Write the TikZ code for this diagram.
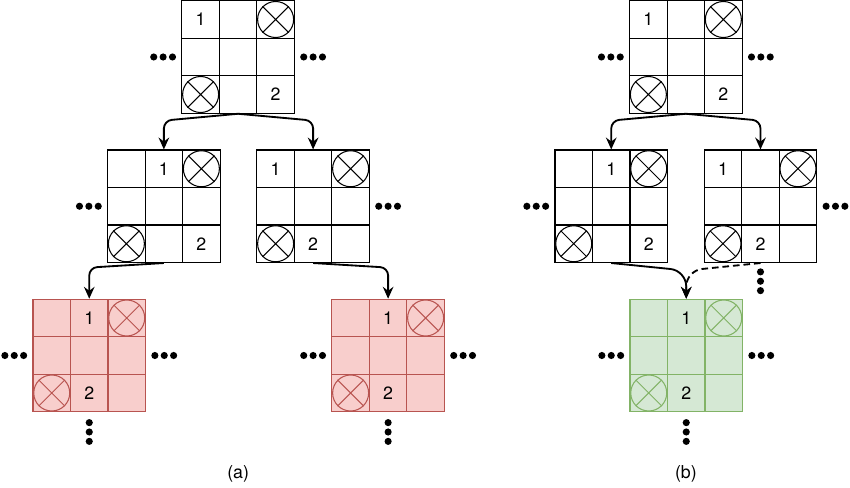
\documentclass[tikz,border=0pt]{standalone}
\usepackage{fontspec}
\setmainfont{TeX Gyre Heros}
\usepackage{tikz}
\usetikzlibrary{arrows.meta}
\usetikzlibrary{calc}
\definecolor{dupfill}{HTML}{F8CECC}
\definecolor{dupline}{HTML}{B85450}
\definecolor{mergefill}{HTML}{D5E8D4}
\definecolor{mergeline}{HTML}{82B366}
\tikzset{cell/.style={draw, shape=rectangle, minimum size=1cm, inner sep=0pt, line width=0.8pt}}
\tikzset{blocked/.style={draw, shape=circle, minimum size=0.96cm, inner sep=0pt, line width=0.8pt}}
\tikzset{num/.style={font=\fontsize{13.5}{16}\selectfont, inner sep=0pt}}
\tikzset{dot/.style={shape=circle, fill=black, minimum size=0.19cm, inner sep=0pt}}
\tikzset{link/.style={line width=1.4pt, rounded corners=6pt, -{Stealth[length=9pt,width=8pt,inset=3pt]}}}
\tikzset{other/.style={dash pattern=on 5pt off 3pt}}
\tikzset{blank/.style={fill=white, draw=black}}
\tikzset{dupl/.style={fill=dupfill, draw=dupline}}
\tikzset{merged/.style={fill=mergefill, draw=mergeline}}

% one 3x3 board: name, centre, look, cell of 1, cell of 2
\newcommand{\board}[5]{%
	\begin{scope}[shift={(#2)}]
		\node[cell,#3] (#1-11) at (-1, 1) {};	\node[cell,#3] (#1-12) at (0, 1) {};	\node[cell,#3] (#1-13) at (1, 1) {};
		\node[cell,#3] (#1-21) at (-1, 0) {};	\node[cell,#3] (#1-22) at (0, 0) {};	\node[cell,#3] (#1-23) at (1, 0) {};
		\node[cell,#3] (#1-31) at (-1,-1) {};	\node[cell,#3] (#1-32) at (0,-1) {};	\node[cell,#3] (#1-33) at (1,-1) {};
	\end{scope}
	\node[blocked,#3] (#1-xa) at (#1-13) {};
	\node[blocked,#3] (#1-xb) at (#1-31) {};
	\draw[line width=0.8pt,#3] (#1-xa.45) -- (#1-xa.225) (#1-xa.135) -- (#1-xa.315);
	\draw[line width=0.8pt,#3] (#1-xb.45) -- (#1-xb.225) (#1-xb.135) -- (#1-xb.315);
	\node[num] (#1-one) at (#1-#4) {1};
	\node[num] (#1-two) at (#1-#5) {2};
}
\newcommand{\rowdots}[2]{%
	\begin{scope}[shift={(#2)}]
		\node[dot] (#1-a) at (-0.25,0) {};	\node[dot] (#1-b) at (0,0) {};	\node[dot] (#1-c) at (0.25,0) {};
	\end{scope}}
\newcommand{\coldots}[2]{%
	\begin{scope}[shift={(#2)}]
		\node[dot] (#1-a) at (0,0.25) {};	\node[dot] (#1-b) at (0,0) {};	\node[dot] (#1-c) at (0,-0.25) {};
	\end{scope}}

\begin{document}
\begin{tikzpicture}
	\useasboundingbox (0,0) rectangle (22.667,-13.013);

	% (a)
	\board{topa}{6.35,-1.52}{blank}{11}{33}
	\board{mida1}{4.37,-5.5}{blank}{12}{33}
	\board{mida2}{8.35,-5.5}{blank}{11}{32}
	\board{bota1}{2.38,-9.48}{dupl}{12}{32}
	\board{bota2}{10.35,-9.48}{dupl}{12}{32}

	\rowdots{topa-w}{4.35,-1.52}		\rowdots{topa-e}{8.35,-1.52}
	\rowdots{mida1-w}{2.37,-5.5}		\rowdots{mida2-e}{10.35,-5.5}
	\rowdots{bota1-w}{0.38,-9.48}		\rowdots{bota1-e}{4.38,-9.48}		\coldots{bota1-s}{2.38,-11.52}
	\rowdots{bota2-w}{8.35,-9.48}		\rowdots{bota2-e}{12.35,-9.48}		\coldots{bota2-s}{10.35,-11.52}

	\node[num] (labela) at (6.35,-12.63) {(a)};

	% (b)
	\board{topb}{18.29,-1.52}{blank}{11}{33}
	\board{midb1}{16.30,-5.5}{blank}{12}{33}
	\board{midb2}{20.28,-5.5}{blank}{11}{32}
	\board{green}{18.30,-9.48}{merged}{12}{32}

	\rowdots{topb-w}{16.29,-1.52}		\rowdots{topb-e}{20.29,-1.52}
	\rowdots{midb1-w}{14.30,-5.5}		\rowdots{midb2-e}{22.28,-5.5}		\coldots{midb2-s}{20.28,-7.5}
	\rowdots{green-w}{16.30,-9.48}		\rowdots{green-e}{20.30,-9.48}		\coldots{green-s}{18.30,-11.52}

	\node[num] (labelb) at (18.29,-12.63) {(b)};

	% Arrows
	\draw[link] (topa-32.south) -- ($(mida1-12.north)+(0,0.77)$) -- (mida1-12.north);
	\draw[link] (topa-32.south) -- ($(mida2-12.north)+(0,0.77)$) -- (mida2-12.north);
	\draw[link] (mida1-32.south) -- ($(bota1-12.north)+(0,0.83)$) -- (bota1-12.north);
	\draw[link] (mida2-32.south) -- ($(bota2-12.north)+(0,0.83)$) -- (bota2-12.north);

	\draw[link] (topb-32.south) -- ($(midb1-12.north)+(0,0.77)$) -- (midb1-12.north);
	\draw[link] (topb-32.south) -- ($(midb2-12.north)+(0,0.77)$) -- (midb2-12.north);
	\draw[link, rounded corners=12pt] (midb1-32.south) -- ($(green-12.north)+(0,0.75)$) -- (green-12.north);
	\draw[link, other, rounded corners=12pt] (midb2-32.south) -- ($(green-12.north)+(0,0.75)$) -- (green-12.north);
\end{tikzpicture}
\end{document}
